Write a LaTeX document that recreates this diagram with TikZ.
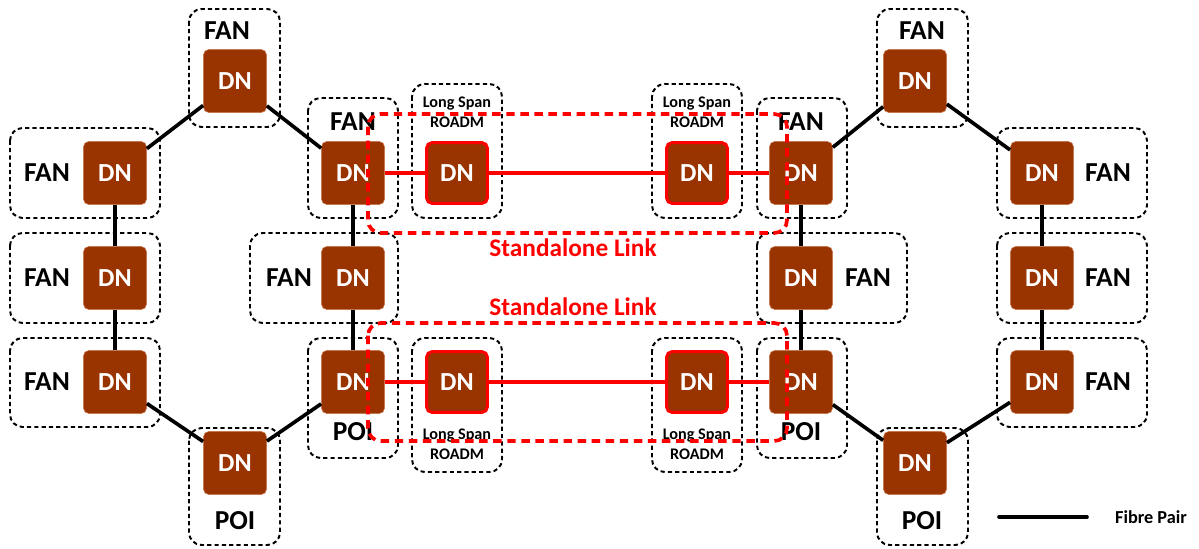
\documentclass[tikz,border=0pt]{standalone}
\usepackage{fontspec}
\setmainfont{Carlito}
\usepackage{xcolor}
\usepackage{tikz}
\usetikzlibrary{shapes, arrows.meta, positioning}

\definecolor{dnbrown}{HTML}{993300}
\definecolor{dnedge}{HTML}{C8784E}

\begin{document}
\begin{tikzpicture}
  [
    x=0.025cm, y=-0.025cm,
    Dn/.style={rectangle, rounded corners=4pt, draw=dnedge, fill=dnbrown, thin, minimum size=1.58cm, text=white, font=\bfseries\fontsize{18.5}{21}\selectfont},
    Roadm/.style={Dn, draw=red, line width=2.2pt, minimum size=1.52cm},
    Frame/.style={draw=black, dashed, dash pattern=on 3pt off 2.2pt, line width=1.4pt, rounded corners=9pt},
    Ring/.style={font=\bfseries\fontsize{19.5}{22}\selectfont},
    Small/.style={font=\bfseries\fontsize{11.5}{13}\selectfont},
    Fibre/.style={draw=black, line width=2.6pt},
    Link/.style={draw=red, line width=2.6pt},
    Span/.style={draw=red, dash pattern=on 6pt off 4pt, line width=2.6pt, rounded corners=9pt},
    Red/.style={text=red, font=\bfseries\fontsize{18}{21}\selectfont}
  ]
  \useasboundingbox (0,0) rectangle (1199,548);

  % Frames
  \draw[Frame] (189,9) rectangle (280,127);
  \draw[Frame] (10,128) rectangle (160,218);
  \draw[Frame] (10,233) rectangle (160,323);
  \draw[Frame] (10,338) rectangle (160,427);
  \draw[Frame] (189,428) rectangle (280,545);
  \draw[Frame] (308,98) rectangle (398,218);
  \draw[Frame] (250,233) rectangle (398,323);
  \draw[Frame] (308,338) rectangle (398,458);
  \draw[Frame] (412,84) rectangle (502,218);
  \draw[Frame] (652,84) rectangle (742,218);
  \draw[Frame] (412,338) rectangle (502,472);
  \draw[Frame] (652,338) rectangle (742,472);
  \draw[Frame] (757,98) rectangle (847,218);
  \draw[Frame] (757,233) rectangle (907,323);
  \draw[Frame] (757,338) rectangle (847,458);
  \draw[Frame] (877,9) rectangle (968,127);
  \draw[Frame] (997,128) rectangle (1147,218);
  \draw[Frame] (997,233) rectangle (1147,323);
  \draw[Frame] (997,338) rectangle (1147,427);
  \draw[Frame] (877,428) rectangle (968,545);

  % Nodes
  \node[Dn] (lt) at(235,81) {DN};
  \node[Dn] (l1) at(115,173) {DN};
  \node[Dn] (l2) at(115,278) {DN};
  \node[Dn] (l3) at(115,382) {DN};
  \node[Dn] (lb) at(235,463) {DN};
  \node[Dn] (li1) at(353,173) {DN};
  \node[Dn] (li2) at(353,278) {DN};
  \node[Dn] (li3) at(353,382) {DN};

  \node[Dn] (rt) at(915,81) {DN};
  \node[Dn] (r1) at(1042,173) {DN};
  \node[Dn] (r2) at(1042,278) {DN};
  \node[Dn] (r3) at(1042,382) {DN};
  \node[Dn] (rb) at(915,463) {DN};
  \node[Dn] (ri1) at(801,173) {DN};
  \node[Dn] (ri2) at(801,278) {DN};
  \node[Dn] (ri3) at(801,382) {DN};

  \node[Roadm] (ra) at(457,173) {DN};
  \node[Roadm] (rb2) at(697,173) {DN};
  \node[Roadm] (rc) at(457,382) {DN};
  \node[Roadm] (rd) at(697,382) {DN};

  % Labels
  \node[Ring] (flt) at(227,31) {FAN};
  \node[Ring] (fl1) at(47,173) {FAN};
  \node[Ring] (fl2) at(47,278) {FAN};
  \node[Ring] (fl3) at(47,382) {FAN};
  \node[Ring] (plb) at(235,521) {POI};
  \node[Ring] (fli1) at(353,122) {FAN};
  \node[Ring] (fli2) at(289,278) {FAN};
  \node[Ring] (pli3) at(353,432) {POI};

  \node[Ring] (frt) at(922,31) {FAN};
  \node[Ring] (fr1) at(1108,173) {FAN};
  \node[Ring] (fr2) at(1108,278) {FAN};
  \node[Ring] (fr3) at(1108,382) {FAN};
  \node[Ring] (prb) at(922,521) {POI};
  \node[Ring] (fri1) at(801,122) {FAN};
  \node[Ring] (fri2) at(868,278) {FAN};
  \node[Ring] (pri3) at(801,432) {POI};

  \node[Small, align=center] (sa) at(457,112) {Long Span\\[1pt]ROADM};
  \node[Small, align=center] (sb) at(697,112) {Long Span\\[1pt]ROADM};
  \node[Small, align=center] (sc) at(457,444) {Long Span\\[1pt]ROADM};
  \node[Small, align=center] (sd) at(697,444) {Long Span\\[1pt]ROADM};

  % Lines
  \path [Fibre] (lt) -- (l1);
  \path [Fibre] (lt) -- (li1);
  \path [Fibre] (l1) -- (l2);
  \path [Fibre] (l2) -- (l3);
  \path [Fibre] (l3) -- (lb);
  \path [Fibre] (lb) -- (li3);
  \path [Fibre] (li1) -- (li2);
  \path [Fibre] (li2) -- (li3);

  \path [Fibre] (rt) -- (r1);
  \path [Fibre] (rt) -- (ri1);
  \path [Fibre] (r1) -- (r2);
  \path [Fibre] (r2) -- (r3);
  \path [Fibre] (r3) -- (rb);
  \path [Fibre] (rb) -- (ri3);
  \path [Fibre] (ri1) -- (ri2);
  \path [Fibre] (ri2) -- (ri3);

  \path [Link] (li1) -- (ra);
  \path [Link] (ra) -- (rb2);
  \path [Link] (rb2) -- (ri1);
  \path [Link] (li3) -- (rc);
  \path [Link] (rc) -- (rd);
  \path [Link] (rd) -- (ri3);

  % Standalone links
  \draw[Span] (368,114) rectangle (787,233);
  \draw[Span] (368,323) rectangle (787,441);
  \node[Red] (stu) at(573,248) {Standalone Link};
  \node[Red] (stl) at(573,307) {Standalone Link};

  % Legend
  \coordinate (lga) at(999,517);
  \coordinate (lgb) at(1087,517);
  \path [Fibre, line cap=round] (lga) -- (lgb);
  \node[Small, font=\bfseries\fontsize{13}{15}\selectfont] (lgt) at(1151,517) {Fibre Pair};

\end{tikzpicture}
\end{document}
